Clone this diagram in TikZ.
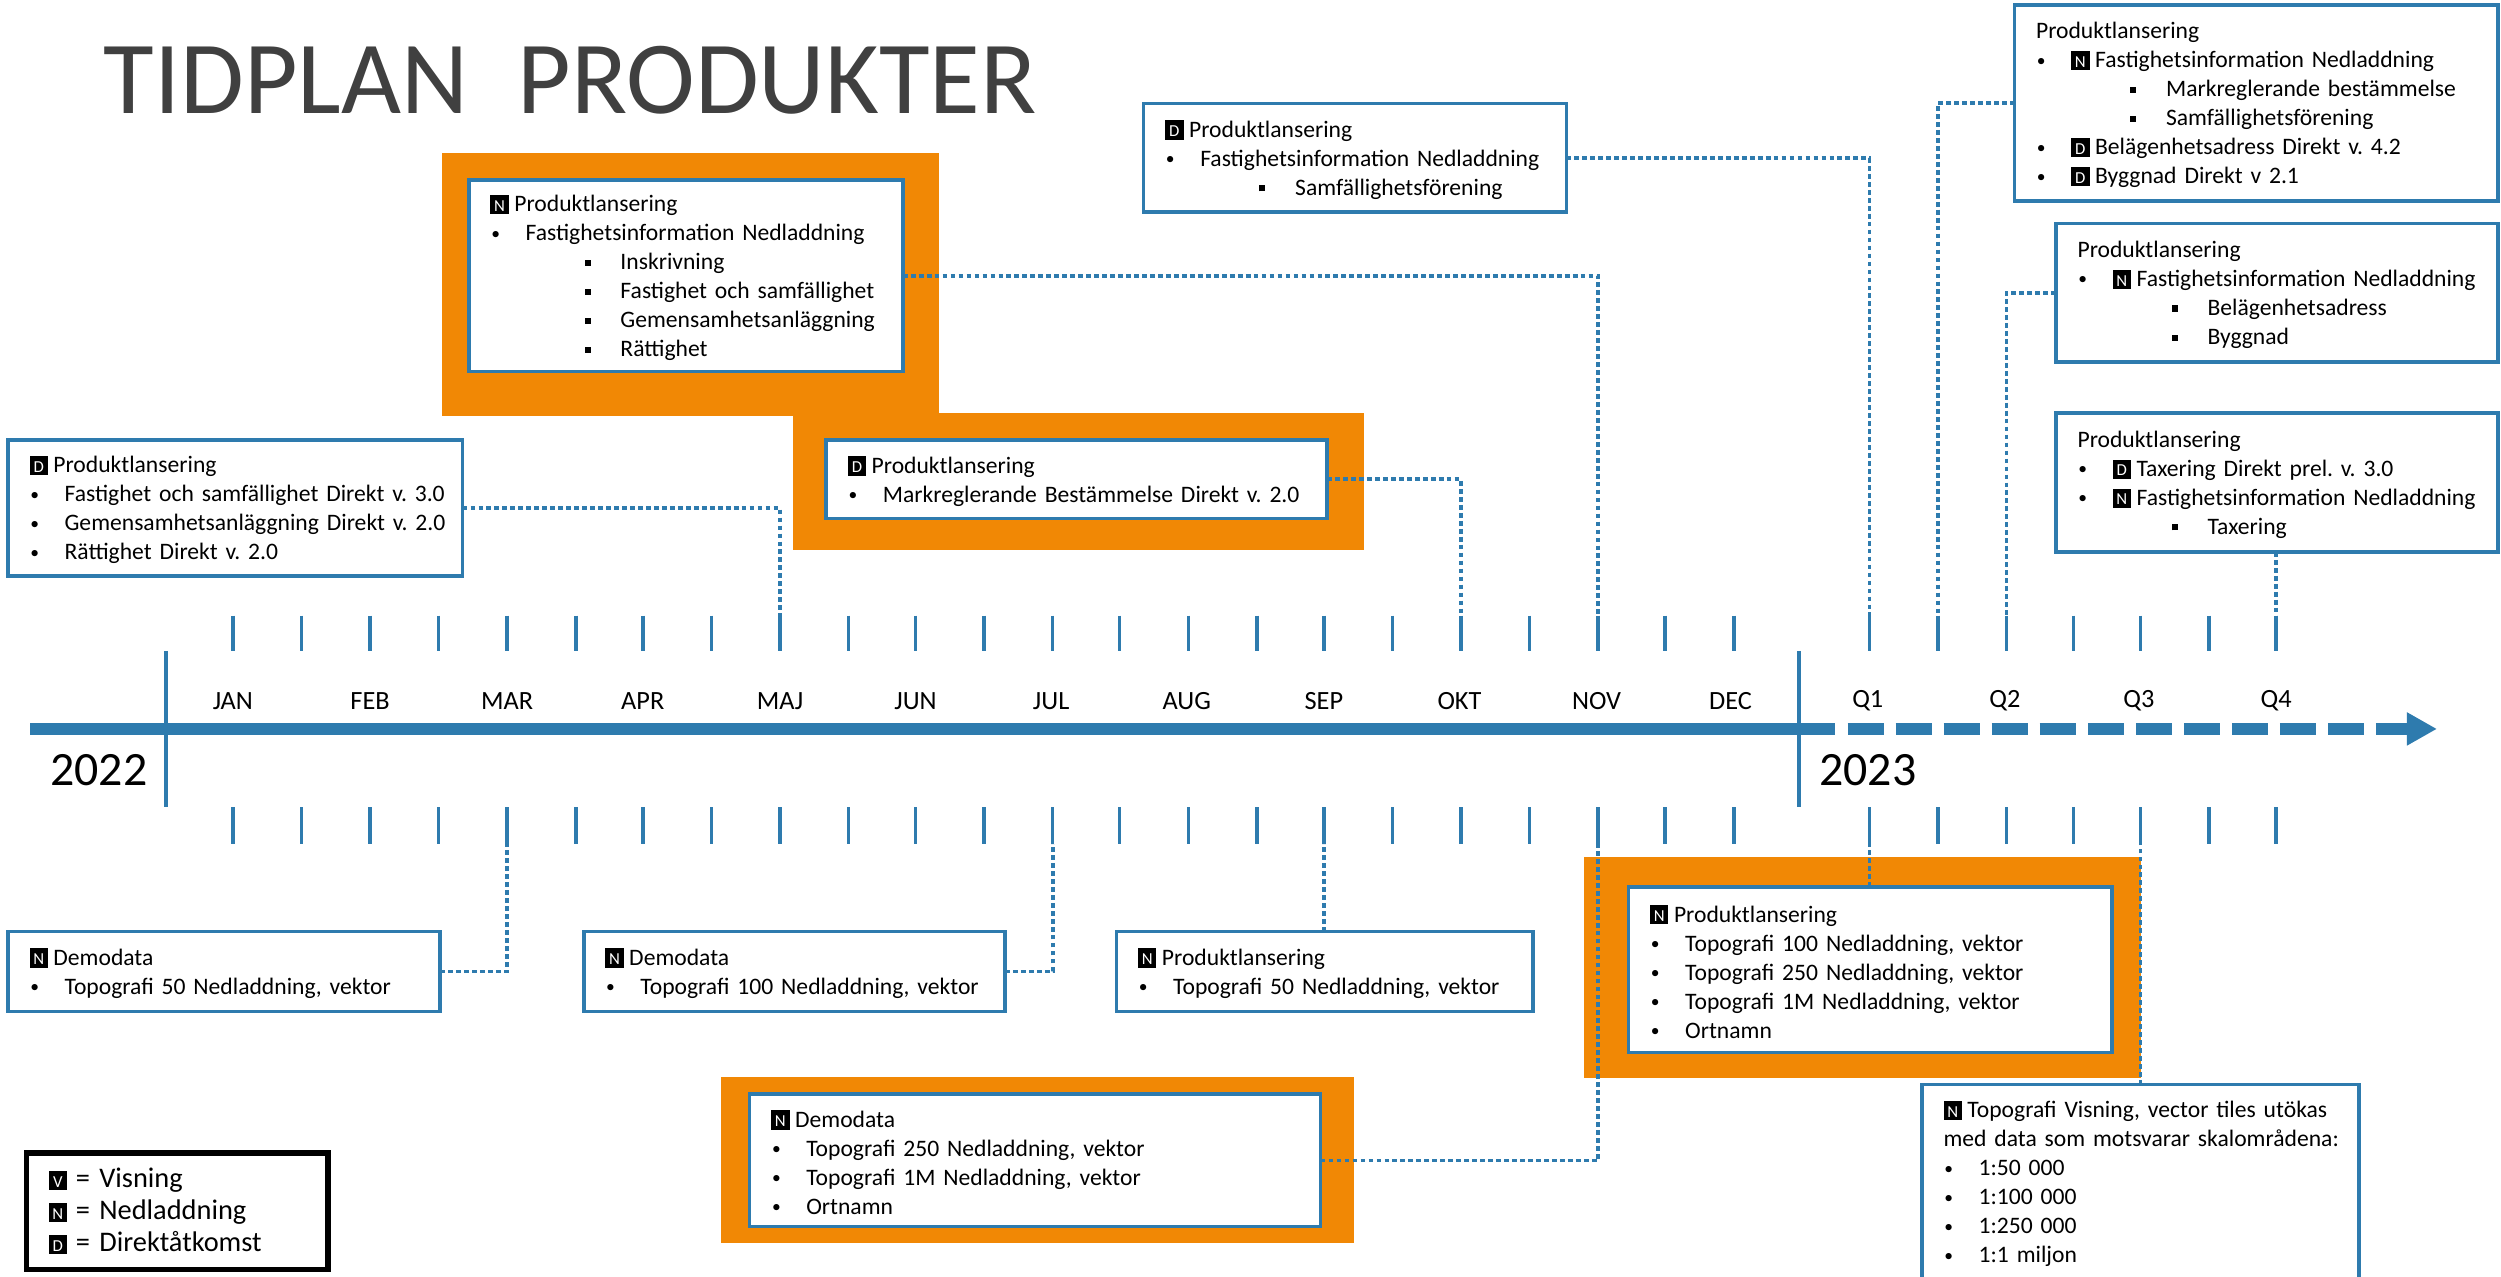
\documentclass[tikz,border=0pt]{standalone}
\usepackage{fontspec}
\setmainfont{Carlito}
\frenchspacing
\definecolor{tlblue}{HTML}{2E7BAE}
\definecolor{tlorange}{HTML}{F18805}
\newcommand\bdg[1]{\raisebox{-1.5pt}{\setlength\fboxsep{0pt}\colorbox{black}{\makebox[11.5pt]{\rule{0pt}{12pt}\raisebox{1.8pt}{\color{white}\fontsize{10.5}{10.5}\selectfont #1}}}}\hspace{3.5pt}}
\newcommand\Lz[1]{\mbox{\rule{0pt}{13pt}#1}}
\newcommand\Lp[1]{\mbox{#1}}
\newcommand\Lo[1]{\mbox{\makebox[22pt][l]{\hspace{0.5pt}\raisebox{1pt}{\fontsize{11}{11}\selectfont •}}#1}}
\newcommand\Lt[1]{\mbox{\hspace*{59pt}\makebox[22.5pt][l]{\raisebox{2.5pt}{\rule{3.8pt}{3.8pt}}}#1}}
\tikzset{
  x=1pt,y=-1pt,
  pbox/.style={draw=tlblue,line width=2.2pt,fill=white,rectangle,anchor=north west,inner xsep=13.5pt,inner ysep=0pt,outer sep=0pt,align=left,font=\fontsize{14.8}{18.2}\selectfont},
  halo/.style={fill=tlorange,draw=none},
  conn/.style={draw=tlblue,line width=2.3pt,dash pattern=on 3pt off 2pt},
  tickm/.style={draw=tlblue,line width=2.2pt},
  yearline/.style={draw=tlblue,line width=2.4pt},
  axisline/.style={draw=tlblue,line width=8pt},
  mon/.style={font=\fontsize{16.5}{18}\selectfont,inner sep=0pt},
  yearlab/.style={font=\fontsize{30}{34}\selectfont,inner sep=0pt},
}
\begin{document}
\begin{tikzpicture}
\useasboundingbox (0,0) rectangle (1568,800);
\clip (0,0) rectangle (1568,800);
\node[inner sep=0pt,anchor=west,text=black!75,font=\fontsize{65}{70}\selectfont] (title) at (65,50) {TIDPLAN\hspace{16pt} PRODUKTER};
% orange highlights
\fill[halo] (277,96) rectangle (589,261);
\fill[halo] (497,259) rectangle (855,345);
\fill[halo] (993,537) rectangle (1342,676);
\fill[halo] (452,675) rectangle (849,779);
% ticks
\foreach \n/\x in {1/146,2/189,3/232,4/275,5/318,6/361,7/403,8/446,9/489,10/532,11/574,12/617,13/660,14/702,15/745,16/788,17/830,18/873,19/916,20/959,21/1002,22/1044,23/1087,24/1172,25/1215,26/1258,27/1300,28/1342,29/1385,30/1427}{
  \coordinate (up\n) at (\x,386);
  \coordinate (dn\n) at (\x,529);
  \draw[tickm] (up\n) -- (\x,408);
  \draw[tickm] (dn\n) -- (\x,506);
}
% axis
\coordinate (axA) at (19,457);
\coordinate (axB) at (1150.5,457);
\coordinate (axC) at (1158.4,457);
\coordinate (axD) at (1509,457);
\draw[axisline] (axA) -- (axB);
\draw[axisline,dash pattern=on 22.7pt off 7.4pt] (axC) -- (axD);
\fill[tlblue] (1509,446.5) -- (1527.5,457) -- (1509,467.5) -- cycle;
\draw[yearline] (104,408) -- (104,506);
\draw[yearline] (1128,408) -- (1128,506);
% labels
\foreach \t/\x in {JAN/146,FEB/232,MAR/318,APR/403,MAJ/489,JUN/574,JUL/659,AUG/744,SEP/830,OKT/915,NOV/1001,DEC/1085,Q1/1171,Q2/1257,Q3/1341,Q4/1427}{
  \node[mon] (m\t) at (\x,439.5) {\t};
}
\node[yearlab] (y22) at (62,483) {2022};
\node[yearlab] (y23) at (1171,483) {2023};
% boxes
\node[pbox,text width=258pt,minimum height=85pt] (A) at (5,276) {\Lz{\bdg{D}Produktlansering}\\\Lo{Fastighet och samfällighet Direkt v. 3.0}\\\Lo{Gemensamhetsanläggning Direkt v. 2.0}\\\Lo{Rättighet Direkt v. 2.0}};
\node[pbox,text width=245pt,minimum height=120pt] (B) at (294,113) {\Lz{\bdg{N}Produktlansering}\\\Lo{Fastighetsinformation Nedladdning}\\\Lt{Inskrivning}\\\Lt{Fastighet och samfällighet}\\\Lt{Gemensamhetsanläggning}\\\Lt{Rättighet}};
\node[pbox,text width=287pt,minimum height=49pt] (C) at (518,276) {\Lz{\bdg{D}Produktlansering}\\\Lo{Markreglerande Bestämmelse Direkt v. 2.0}};
\node[pbox,text width=238pt,minimum height=68pt] (D) at (717,65) {\Lz{\bdg{D}Produktlansering}\\\Lo{Fastighetsinformation Nedladdning}\\\Lt{Samfällighetsförening}};
\node[pbox,text width=276pt,minimum height=123pt] (E) at (1263,3) {\Lz{Produktlansering}\\\Lo{\bdg{N}Fastighetsinformation Nedladdning}\\\Lt{Markreglerande bestämmelse}\\\Lt{Samfällighetsförening}\\\Lo{\bdg{D}Belägenhetsadress Direkt v. 4.2}\\\Lo{\bdg{D}Byggnad Direkt v 2.1}};
\node[pbox,text width=250pt,minimum height=87pt] (F) at (1289,140) {\Lz{Produktlansering}\\\Lo{\bdg{N}Fastighetsinformation Nedladdning}\\\Lt{Belägenhetsadress}\\\Lt{Byggnad}};
\node[pbox,text width=250pt,minimum height=87pt] (G) at (1289,259) {\Lz{Produktlansering}\\\Lo{\bdg{D}Taxering Direkt prel. v. 3.0}\\\Lo{\bdg{N}Fastighetsinformation Nedladdning}\\\Lt{Taxering}};
\node[pbox,text width=244pt,minimum height=50pt] (H) at (5,584) {\Lz{\bdg{N}Demodata}\\\Lo{Topografi 50 Nedladdning, vektor}};
\node[pbox,text width=237pt,minimum height=50pt] (I) at (366,584) {\Lz{\bdg{N}Demodata}\\\Lo{Topografi 100 Nedladdning, vektor}};
\node[pbox,text width=234pt,minimum height=50pt] (J) at (700,584) {\Lz{\bdg{N}Produktlansering}\\\Lo{Topografi 50 Nedladdning, vektor}};
\node[pbox,text width=276pt,minimum height=104pt] (K) at (1021,556) {\Lz{\bdg{N}Produktlansering}\\\Lo{Topografi 100 Nedladdning, vektor}\\\Lo{Topografi 250 Nedladdning, vektor}\\\Lo{Topografi 1M Nedladdning, vektor}\\\Lo{Ortnamn}};
\node[pbox,text width=331pt,minimum height=83pt] (L) at (470,686) {\Lz{\bdg{N}Demodata}\\\Lo{Topografi 250 Nedladdning, vektor}\\\Lo{Topografi 1M Nedladdning, vektor}\\\Lo{Ortnamn}};
\node[pbox,text width=247pt,minimum height=122pt] (M) at (1205,680) {\Lz{\bdg{N}Topografi Visning, vector tiles utökas}\\\Lp{med data som motsvarar skalområdena:}\\\Lo{1:50 000}\\\Lo{1:100 000}\\\Lo{1:250 000}\\\Lo{1:1 miljon}};
% legend
\node[pbox,draw=black,line width=3.5pt,text width=161pt,inner xsep=14pt,minimum height=73pt,font=\fontsize{17.8}{20}\selectfont] (key) at (16.5,722.8) {\Lp{\bdg{V}\hspace{2pt}= Visning}\\\Lp{\bdg{N}\hspace{2pt}= Nedladdning}\\\Lp{\bdg{D}\hspace{2pt}= Direktåtkomst}};
% connectors
\draw[conn] (A.east) -| (up9);
\draw[conn] (B.east) -| (up21);
\draw[conn] (C.east) -| (up19);
\draw[conn] (D.east) -| (up24);
\draw[conn] (E.west) -| (up25);
\draw[conn] (F.west) -| (up26);
\draw[conn] (up30 |- G.south) -- (up30);
\draw[conn] (H.east) -| (dn5);
\draw[conn] (I.east) -| (dn13);
\draw[conn] (dn17 |- J.north) -- (dn17);
\draw[conn] (dn24 |- K.north) -- (dn24);
\draw[conn] (dn28 |- M.north) -- (dn28);
\draw[conn] (L.east) -| (dn21);
\end{tikzpicture}
\end{document}
